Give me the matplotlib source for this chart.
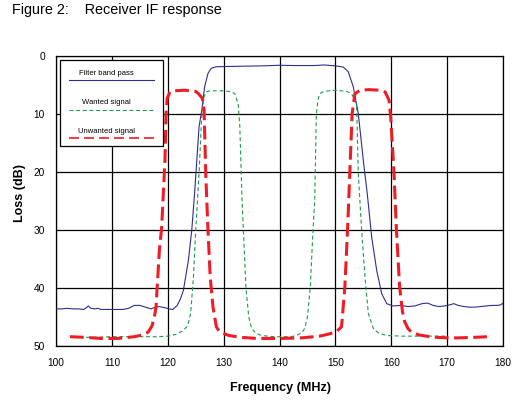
import matplotlib
matplotlib.use("Agg")
import matplotlib.pyplot as plt
from matplotlib.patches import Rectangle

plt.rcParams['font.family'] = ['Liberation Sans', 'DejaVu Sans']

# ---- data ----
filter_freq = [100, 101, 102, 103, 104, 105, 105.4, 105.8, 106.2, 107, 107.5, 108, 110, 112, 113,
               114, 115, 116, 117, 117.8, 118.5, 119.5, 120.2, 120.9, 121.7, 122.3, 122.8, 123.7,
               124.3, 124.8, 125.2, 125.6, 126.1, 126.6, 127.2, 127.8, 128.7, 131, 134, 137, 140,
               143, 146, 148, 150, 151.4, 152.3, 153.2, 154.1, 155.0, 155.7, 156.5, 157.4, 158.3,
               159.2, 160.3, 161.7, 163, 164.2, 165.5, 166.5, 167.5, 168.5, 169.5, 170.5, 171.2,
               172, 173, 174, 175, 176, 177, 178, 179, 179.6, 180]
filter_loss = [43.6, 43.6, 43.5, 43.6, 43.6, 43.7, 43.4, 43.1, 43.5, 43.6, 43.5, 43.7, 43.7, 43.7, 43.5,
               43.0, 43.0, 43.3, 43.6, 43.3, 43.2, 43.4, 43.6, 43.7, 43.0, 41.8, 40.4, 35.2,
               30.0, 23.7, 18.0, 12.2, 9.3, 5.3, 3.0, 2.1, 1.85, 1.8, 1.75, 1.7, 1.6,
               1.65, 1.65, 1.55, 1.7, 1.9, 2.7, 5.3, 9.9, 18.0, 23.7, 31.2, 37.0, 41.0,
               42.7, 43.1, 43.0, 43.2, 43.1, 42.7, 42.6, 43.0, 43.2, 43.1, 42.9, 42.7,
               43.0, 43.2, 43.3, 43.3, 43.2, 43.1, 43.0, 43.0, 42.9, 42.6]

wanted_freq = [103, 106, 110, 115, 118, 120, 121.5, 122.8, 123.4, 123.7, 124.1, 124.6, 125.0, 125.6,
               126.1, 126.5, 126.9, 127.5, 130, 131.5, 132.0, 132.6, 132.9, 133.3, 134.0, 134.5,
               135.0, 135.8, 136.8, 139, 142, 143, 144, 144.5, 145.0, 145.5, 146.0, 146.3, 146.6,
               146.9, 147.2, 148, 150, 152, 152.9, 153.8, 154.1, 154.7, 155.3, 155.9, 156.8,
               157.8, 159.2, 162, 166, 170]
wanted_loss = [48.5, 48.5, 48.4, 48.4, 48.4, 48.3, 48.0, 47.3, 46.7, 46.0, 44.4, 38.1, 30.0, 20.3,
               9.9, 7.0, 6.2, 6.0, 6.0, 6.2, 6.5, 8.2, 12.2, 25.0, 40.0, 45.0,
               47.0, 47.8, 48.2, 48.4, 48.4, 48.2, 47.7, 47.0, 45.0, 40.0, 30.0, 25.0, 10.0,
               7.5, 6.5, 6.1, 5.9, 6.1, 6.5, 8.2, 20.3, 30.0, 38.1, 44.4, 47.0,
               47.8, 48.2, 48.3, 48.3, 48.3]

unwanted_freq = [102.5, 105, 108, 111, 114, 115.5, 116.5, 117.2, 117.7, 117.9, 118.5, 118.9, 119.5,
                 119.7, 119.9, 120.4, 121, 123, 125, 125.5, 126.2, 126.5, 126.8, 127.2, 127.6,
                 128.1, 128.7, 129.3, 131, 133, 136, 140, 144, 147.2, 149, 150.2, 151.1, 151.7,
                 152.2, 152.6, 153.0, 153.5, 154.4, 156, 158, 158.9, 159.6, 159.9, 160.5, 160.9,
                 161.5, 162.0, 162.4, 163.0, 163.6, 165, 166.3, 168, 170, 172, 175, 177.3]
unwanted_loss = [48.4, 48.5, 48.7, 48.7, 48.4, 48.1, 47.6, 46.5, 44.5, 43.3, 33.5, 29.7, 18.0,
                 10.0, 7.3, 6.2, 6.0, 5.9, 6.1, 6.5, 7.3, 9.3, 20.3, 30.0, 38.1,
                 43.3, 46.7, 47.6, 48.2, 48.5, 48.7, 48.7, 48.6, 48.3, 47.9, 47.5, 46.7, 39.8,
                 29.5, 19.7, 9.9, 6.5, 5.9, 5.8, 5.9, 6.2, 7.6, 10.5, 20.3, 29.5,
                 39.8, 44.0, 45.8, 47.0, 47.6, 48.1, 48.3, 48.5, 48.6, 48.6, 48.5, 48.4]

labels = ["Filter band pass", "Wanted signal", "Unwanted signal"]
x_ticks = [100, 110, 120, 130, 140, 150, 160, 170, 180]
y_ticks = [0, 10, 20, 30, 40, 50]

# ---- styles ----
c_blue = '#2e2e8f'
c_green = '#1a9a4a'
c_red = '#ee1c25'

W, H = 531, 401
fig = plt.figure(figsize=(W / 100, H / 100), dpi=100)
ax = fig.add_axes([56 / W, 1 - 346 / H, 447 / W, 290 / H])

ax.plot(filter_freq, filter_loss, color=c_blue, lw=0.8, zorder=3)
ax.plot(wanted_freq, wanted_loss, color=c_green, lw=0.8, dashes=(3.5, 2.5), zorder=4)
ax.plot(unwanted_freq, unwanted_loss, color=c_red, lw=2.2, dashes=(4.5, 1.8), zorder=5)

ax.set_xlim(100, 180)
ax.set_ylim(50, 0)
ax.set_xticks(x_ticks)
ax.set_yticks(y_ticks)
ax.set_xticklabels([str(v) for v in x_ticks])
ax.set_yticklabels([str(v) for v in y_ticks])
ax.tick_params(axis='both', length=0, labelsize=7.3)
ax.tick_params(axis='y', pad=8)
ax.tick_params(axis='x', pad=9)
ax.grid(True, color='black', lw=0.9, zorder=1)
for s in ax.spines.values():
    s.set_color('black')
    s.set_linewidth(0.9)

ax.set_xlabel("Frequency (MHz)", fontsize=9, fontweight='bold', va='center')
ax.set_ylabel("Loss (dB)", fontsize=9, fontweight='bold', va='center')
ax.xaxis.set_label_coords(0.502, -0.145)
ax.yaxis.set_label_coords(-0.0805, 0.529)

# ---- custom legend ----
ax.add_patch(Rectangle((0.009, 0.690), 0.230, 0.296, transform=ax.transAxes,
                       facecolor='white', edgecolor='black', lw=0.9, zorder=10))
leg_styles = [dict(color=c_blue, lw=0.8),
              dict(color=c_green, lw=0.8, dashes=(3.5, 2.5)),
              dict(color=c_red, lw=1.2, dashes=(6, 3))]
text_y = [0.938, 0.838, 0.741]
line_y = [0.917, 0.815, 0.717]
for lab, st, ty, ly in zip(labels, leg_styles, text_y, line_y):
    ax.text(0.113, ty, lab, transform=ax.transAxes, fontsize=5.5, ha='center', va='center', zorder=11)
    ax.plot([0.029, 0.219], [ly, ly], transform=ax.transAxes, zorder=11, **st)

fig.text(11.5 / W, 1 - 10 / H, "Figure 2:    Receiver IF response", fontsize=10.4, ha='left', va='center')

fig.savefig("out.png", dpi=100)
